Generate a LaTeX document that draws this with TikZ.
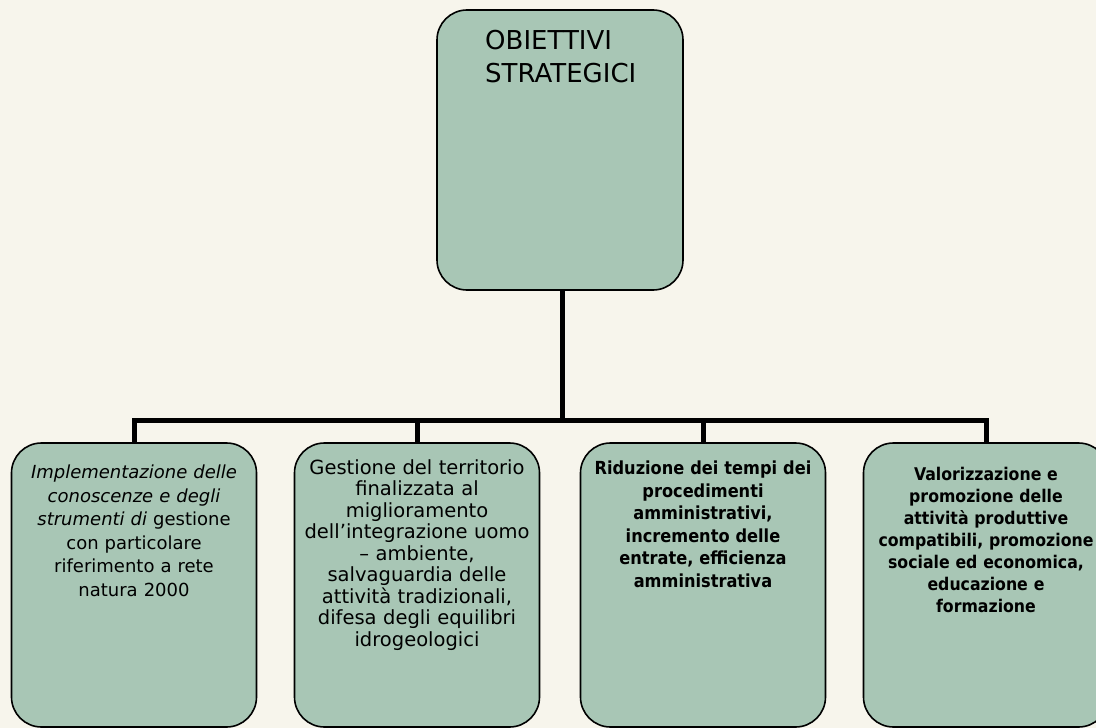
\documentclass[tikz,border=0pt]{standalone}
\usepackage{fontspec}
\setmainfont{DejaVu Sans}
\newfontfamily\condfont{DejaVu Sans Condensed}
\definecolor{paper}{HTML}{F7F5EC}
\definecolor{sage}{HTML}{A8C6B5}
\tikzset{
  goalbox/.style={draw=black, line width=1.6pt, fill=sage, rounded corners=30pt,
    minimum width=245pt, minimum height=284pt},
  goaltext/.style={anchor=north, align=center, text width=243pt, inner sep=0pt},
  link/.style={line width=5pt},
}
\begin{document}
\begin{tikzpicture}[x=1pt,y=-1pt]
    \fill[paper] (0,0) rectangle (1096,728);
    \useasboundingbox (0,0) rectangle (1096,728);
    \node[goalbox, minimum width=246pt, minimum height=280pt] (obj) at (560,150) {};
    \node[anchor=north west, align=left, inner sep=0pt,
        font=\fontsize{26}{33}\selectfont] (objtxt) at (485,30) {OBIETTIVI\\STRATEGICI};
    \coordinate (hub) at (562,420);
    \node[goalbox] (g1) at (134,585) {};
    \node[goalbox] (g2) at (417,585) {};
    \node[goalbox] (g3) at (703,585) {};
    \node[goalbox] (g4) at (986,585) {};
    \draw[link] (obj.south -| hub) -- (hub);
    \foreach \g in {g1,g2,g3,g4}{
        \draw[link] (hub) -| (\g.north);
        };
    \node[goaltext, font=\fontsize{18}{23.5}\selectfont] (t1) at (134,465)
        {\itshape Implementazione delle\\ conoscenze e degli\\ strumenti di \upshape gestione\\
        con particolare\\ riferimento a rete\\ natura 2000};
    \node[goaltext, font=\fontsize{19.5}{21.5}\selectfont] (t2) at (417,459)
        {Gestione del territorio\\ finalizzata al\\ miglioramento\\ dell’integrazione uomo\\
        – ambiente,\\ salvaguardia delle\\ attività tradizionali,\\ difesa degli equilibri\\ idrogeologici};
    \node[goaltext, font=\condfont\fontsize{18}{22.5}\selectfont\bfseries] (t3) at (703,461)
        {Riduzione dei tempi dei\\ procedimenti\\ amministrativi,\\ incremento delle\\
        entrate, efficienza\\ amministrativa};
    \node[goaltext, font=\condfont\fontsize{17.5}{22}\selectfont\bfseries] (t4) at (986,467)
        {Valorizzazione e\\ promozione delle\\ attività produttive\\ compatibili, promozione\\
        sociale ed economica,\\ educazione e\\ formazione};
\end{tikzpicture}
\end{document}
